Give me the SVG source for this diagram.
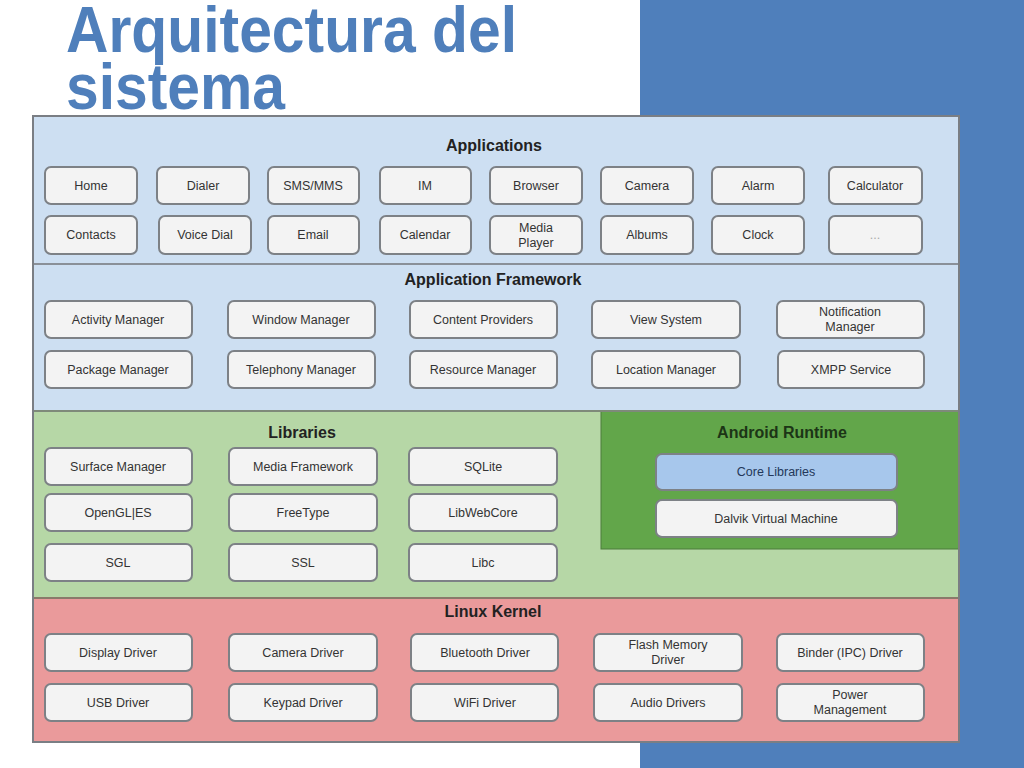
<svg xmlns="http://www.w3.org/2000/svg" width="1024" height="768" viewBox="0 0 1024 768">
<style>
.bx{fill:#f3f3f3;stroke:#7d8186;stroke-width:2}
.t{font-family:"Liberation Sans",Arial,sans-serif;font-size:12.5px;fill:#333;text-anchor:middle}
.h{font-family:"Liberation Sans",Arial,sans-serif;font-size:16px;font-weight:bold;fill:#222;text-anchor:middle}
.ti{font-family:"Liberation Sans",Arial,sans-serif;font-size:64px;font-weight:bold;fill:#4f7fbb}
</style>
<rect width="1024" height="768" fill="#ffffff"/>
<rect x="640" y="0" width="384" height="768" fill="#4f7fbb"/>
<g id="title">
<text class="ti" x="66" y="52" textLength="451" lengthAdjust="spacingAndGlyphs">Arquitectura del</text>
<text class="ti" x="66" y="109" textLength="219" lengthAdjust="spacingAndGlyphs">sistema</text>
</g>
<g id="layers">
<rect x="33" y="116" width="926" height="148" fill="#cddff2"/>
<rect x="33" y="264" width="926" height="147" fill="#cddff2"/>
<rect x="33" y="411" width="926" height="187" fill="#b6d7a6"/>
<rect x="601" y="411" width="358" height="138" fill="#62a64a" stroke="#4d7d3c" stroke-width="1"/>
<rect x="33" y="598" width="926" height="144" fill="#ea9a9b"/>
<line x1="33" y1="264" x2="959" y2="264" stroke="#8a9098" stroke-width="2"/>
<line x1="33" y1="411" x2="959" y2="411" stroke="#7e8a7a" stroke-width="2"/>
<line x1="33" y1="598" x2="959" y2="598" stroke="#8a7a6a" stroke-width="2"/>
<rect x="33" y="116" width="926" height="626" fill="none" stroke="#7a7e84" stroke-width="2"/>
<text class="h" x="494" y="151">Applications</text>
<text class="h" x="493" y="285">Application Framework</text>
<text class="h" x="302" y="438">Libraries</text>
<text class="h" x="782" y="438" style="fill:#1c3516">Android Runtime</text>
<text class="h" x="493" y="617">Linux Kernel</text>
</g>
<g id="applications">
<g id="n-home"><rect class="bx" x="45" y="167" width="92" height="37" rx="6"/><text class="t" x="91" y="190">Home</text></g>
<g id="n-dialer"><rect class="bx" x="157" y="167" width="92" height="37" rx="6"/><text class="t" x="203" y="190">Dialer</text></g>
<g id="n-sms"><rect class="bx" x="268" y="167" width="91" height="37" rx="6"/><text class="t" x="313" y="190">SMS/MMS</text></g>
<g id="n-im"><rect class="bx" x="380" y="167" width="91" height="37" rx="6"/><text class="t" x="425" y="190">IM</text></g>
<g id="n-browser"><rect class="bx" x="490" y="167" width="92" height="37" rx="6"/><text class="t" x="536" y="190">Browser</text></g>
<g id="n-camera"><rect class="bx" x="601" y="167" width="92" height="37" rx="6"/><text class="t" x="647" y="190">Camera</text></g>
<g id="n-alarm"><rect class="bx" x="712" y="167" width="92" height="37" rx="6"/><text class="t" x="758" y="190">Alarm</text></g>
<g id="n-calculator"><rect class="bx" x="829" y="167" width="93" height="37" rx="6"/><text class="t" x="875" y="190">Calculator</text></g>
<g id="n-contacts"><rect class="bx" x="45" y="216" width="92" height="38" rx="6"/><text class="t" x="91" y="239">Contacts</text></g>
<g id="n-voicedial"><rect class="bx" x="159" y="216" width="92" height="38" rx="6"/><text class="t" x="205" y="239">Voice Dial</text></g>
<g id="n-email"><rect class="bx" x="268" y="216" width="91" height="38" rx="6"/><text class="t" x="313" y="239">Email</text></g>
<g id="n-calendar"><rect class="bx" x="380" y="216" width="91" height="38" rx="6"/><text class="t" x="425" y="239">Calendar</text></g>
<g id="n-mediaplayer"><rect class="bx" x="490" y="216" width="92" height="38" rx="6"/><text class="t" x="536" y="232">Media</text><text class="t" x="536" y="247">Player</text></g>
<g id="n-albums"><rect class="bx" x="601" y="216" width="92" height="38" rx="6"/><text class="t" x="647" y="239">Albums</text></g>
<g id="n-clock"><rect class="bx" x="712" y="216" width="92" height="38" rx="6"/><text class="t" x="758" y="239">Clock</text></g>
<g id="n-more"><rect class="bx" x="829" y="216" width="93" height="38" rx="6"/><text class="t" x="875" y="239" style="fill:#aaa">...</text></g>
</g>
<g id="framework">
<g id="n-activity"><rect class="bx" x="45" y="301" width="147" height="37" rx="6"/><text class="t" x="118" y="324">Activity Manager</text></g>
<g id="n-window"><rect class="bx" x="228" y="301" width="147" height="37" rx="6"/><text class="t" x="301" y="324">Window Manager</text></g>
<g id="n-content"><rect class="bx" x="410" y="301" width="147" height="37" rx="6"/><text class="t" x="483" y="324">Content Providers</text></g>
<g id="n-view"><rect class="bx" x="592" y="301" width="148" height="37" rx="6"/><text class="t" x="666" y="324">View System</text></g>
<g id="n-notification"><rect class="bx" x="777" y="301" width="147" height="37" rx="6"/><text class="t" x="850" y="316">Notification</text><text class="t" x="850" y="331">Manager</text></g>
<g id="n-package"><rect class="bx" x="45" y="351" width="147" height="37" rx="6"/><text class="t" x="118" y="374">Package Manager</text></g>
<g id="n-telephony"><rect class="bx" x="228" y="351" width="147" height="37" rx="6"/><text class="t" x="301" y="374">Telephony Manager</text></g>
<g id="n-resource"><rect class="bx" x="410" y="351" width="147" height="37" rx="6"/><text class="t" x="483" y="374">Resource Manager</text></g>
<g id="n-location"><rect class="bx" x="592" y="351" width="148" height="37" rx="6"/><text class="t" x="666" y="374">Location Manager</text></g>
<g id="n-xmpp"><rect class="bx" x="778" y="351" width="146" height="37" rx="6"/><text class="t" x="851" y="374">XMPP Service</text></g>
</g>
<g id="libraries">
<g id="n-surface"><rect class="bx" x="45" y="448" width="147" height="37" rx="6"/><text class="t" x="118" y="471">Surface Manager</text></g>
<g id="n-media"><rect class="bx" x="229" y="448" width="148" height="37" rx="6"/><text class="t" x="303" y="471">Media Framework</text></g>
<g id="n-sqlite"><rect class="bx" x="409" y="448" width="148" height="37" rx="6"/><text class="t" x="483" y="471">SQLite</text></g>
<g id="n-opengl"><rect class="bx" x="45" y="494" width="147" height="37" rx="6"/><text class="t" x="118" y="517">OpenGL|ES</text></g>
<g id="n-freetype"><rect class="bx" x="229" y="494" width="148" height="37" rx="6"/><text class="t" x="303" y="517">FreeType</text></g>
<g id="n-libwebcore"><rect class="bx" x="409" y="494" width="148" height="37" rx="6"/><text class="t" x="483" y="517">LibWebCore</text></g>
<g id="n-sgl"><rect class="bx" x="45" y="544" width="147" height="37" rx="6"/><text class="t" x="118" y="567">SGL</text></g>
<g id="n-ssl"><rect class="bx" x="229" y="544" width="148" height="37" rx="6"/><text class="t" x="303" y="567">SSL</text></g>
<g id="n-libc"><rect class="bx" x="409" y="544" width="148" height="37" rx="6"/><text class="t" x="483" y="567">Libc</text></g>
</g>
<g id="runtime">
<g id="n-corelib"><rect class="bx" x="656" y="454" width="241" height="36" rx="6" style="fill:#a7c7ec"/><text class="t" x="776" y="476" style="fill:#23385a">Core Libraries</text></g>
<g id="n-dalvik"><rect class="bx" x="656" y="500" width="241" height="37" rx="6"/><text class="t" x="776" y="523">Dalvik Virtual Machine</text></g>
</g>
<g id="kernel">
<g id="n-display"><rect class="bx" x="45" y="634" width="147" height="37" rx="6"/><text class="t" x="118" y="657">Display Driver</text></g>
<g id="n-camdrv"><rect class="bx" x="229" y="634" width="148" height="37" rx="6"/><text class="t" x="303" y="657">Camera Driver</text></g>
<g id="n-bluetooth"><rect class="bx" x="411" y="634" width="147" height="37" rx="6"/><text class="t" x="485" y="657">Bluetooth Driver</text></g>
<g id="n-flash"><rect class="bx" x="594" y="634" width="148" height="37" rx="6"/><text class="t" x="668" y="649">Flash Memory</text><text class="t" x="668" y="664">Driver</text></g>
<g id="n-binder"><rect class="bx" x="777" y="634" width="147" height="37" rx="6"/><text class="t" x="850" y="657">Binder (IPC) Driver</text></g>
<g id="n-usb"><rect class="bx" x="45" y="684" width="147" height="37" rx="6"/><text class="t" x="118" y="707">USB Driver</text></g>
<g id="n-keypad"><rect class="bx" x="229" y="684" width="148" height="37" rx="6"/><text class="t" x="303" y="707">Keypad Driver</text></g>
<g id="n-wifi"><rect class="bx" x="411" y="684" width="147" height="37" rx="6"/><text class="t" x="485" y="707">WiFi Driver</text></g>
<g id="n-audio"><rect class="bx" x="594" y="684" width="148" height="37" rx="6"/><text class="t" x="668" y="707">Audio Drivers</text></g>
<g id="n-power"><rect class="bx" x="777" y="684" width="147" height="37" rx="6"/><text class="t" x="850" y="699">Power</text><text class="t" x="850" y="714">Management</text></g>
</g>
<g id="connectors"></g>
</svg>
